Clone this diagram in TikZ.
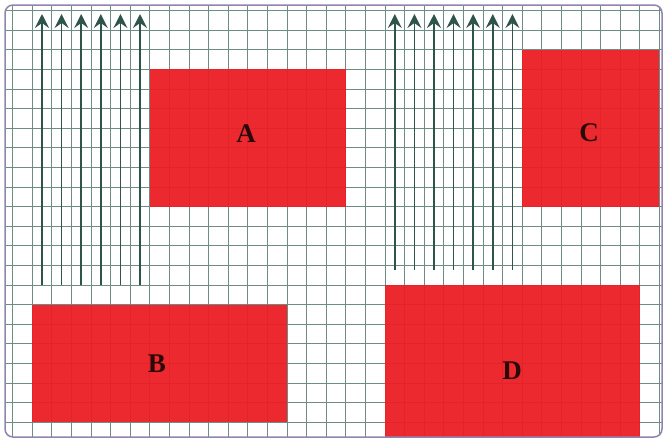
\documentclass[tikz,border=0pt]{standalone}
\usepackage{fontspec}
\setmainfont{Liberation Serif}
\usetikzlibrary{arrows.meta}
\definecolor{gdFrame}{HTML}{9284B0}
\definecolor{gdGrid}{HTML}{6E8C86}
\definecolor{gdArrow}{HTML}{2F554A}
\definecolor{gdRed}{HTML}{EC1C24}
\definecolor{gdInk}{HTML}{2A0A08}
\newcommand{\gdx}[1]{12.6+19.6*(#1)}
\newcommand{\gdy}[1]{10.6+19.6*(#1)}
\tikzset{
  gdcell/.style={draw=gdGrid, line width=1pt},
  gdblock/.style={fill=gdRed, fill opacity=0.94},
  gdlabel/.style={text=gdInk, font=\bfseries\fontsize{27}{29}\selectfont, inner sep=0pt},
  gdflow/.style={-{Stealth[length=14pt, width=14pt, inset=5pt]}, draw=gdArrow, line width=1.6pt},
}

\begin{document}
\begin{tikzpicture}[x=1pt, y=-1pt]
\useasboundingbox (0,0) rectangle (667,440);

% Sheet -------------------------------------------------------------------
\begin{scope}
  \clip[rounded corners=8pt] (5,5) rectangle (662,437);
  \fill[white] (5,5) rectangle (662,437);
  \foreach \c in {0,...,33}{%
    \draw[gdcell] ({\gdx{\c}},5) -- ({\gdx{\c}},437);
  }
  \foreach \r in {0,...,21}{%
    \draw[gdcell] (5,{\gdy{\r}}) -- (662,{\gdy{\r}});
  }
  % Blocks
  \fill[gdblock] ({\gdx{7}},{\gdy{3}}) rectangle ({\gdx{17}},{\gdy{10}});
  \fill[gdblock] ({\gdx{1}},{\gdy{15}}) rectangle ({\gdx{14}},{\gdy{21}});
  \fill[gdblock] ({\gdx{26}},{\gdy{2}}) rectangle ({\gdx{33}},{\gdy{10}});
  \fill[gdblock] ({\gdx{19}},{\gdy{14}}) rectangle ({\gdx{32}},440);
\end{scope}
\draw[gdFrame, line width=1.5pt, rounded corners=8pt] (5,5) rectangle (662,437);

% Labels ------------------------------------------------------------------
\node[gdlabel] (A) at (246,134) {A};
\node[gdlabel] (B) at (157,364) {B};
\node[gdlabel] (C) at (589,133) {C};
\node[gdlabel] (D) at (512,371) {D};

% Flow --------------------------------------------------------------------
\foreach \i in {1,...,6}{%
  \coordinate (lb\i) at ({\gdx{\i+0.5}},285);
  \coordinate (lt\i) at ({\gdx{\i+0.5}},14);
  \draw[gdflow] (lb\i) -- (lt\i);
}
\foreach \i in {1,...,7}{%
  \coordinate (rb\i) at ({\gdx{\i+18.5}},270);
  \coordinate (rt\i) at ({\gdx{\i+18.5}},14);
  \draw[gdflow] (rb\i) -- (rt\i);
}

\end{tikzpicture}
\end{document}
